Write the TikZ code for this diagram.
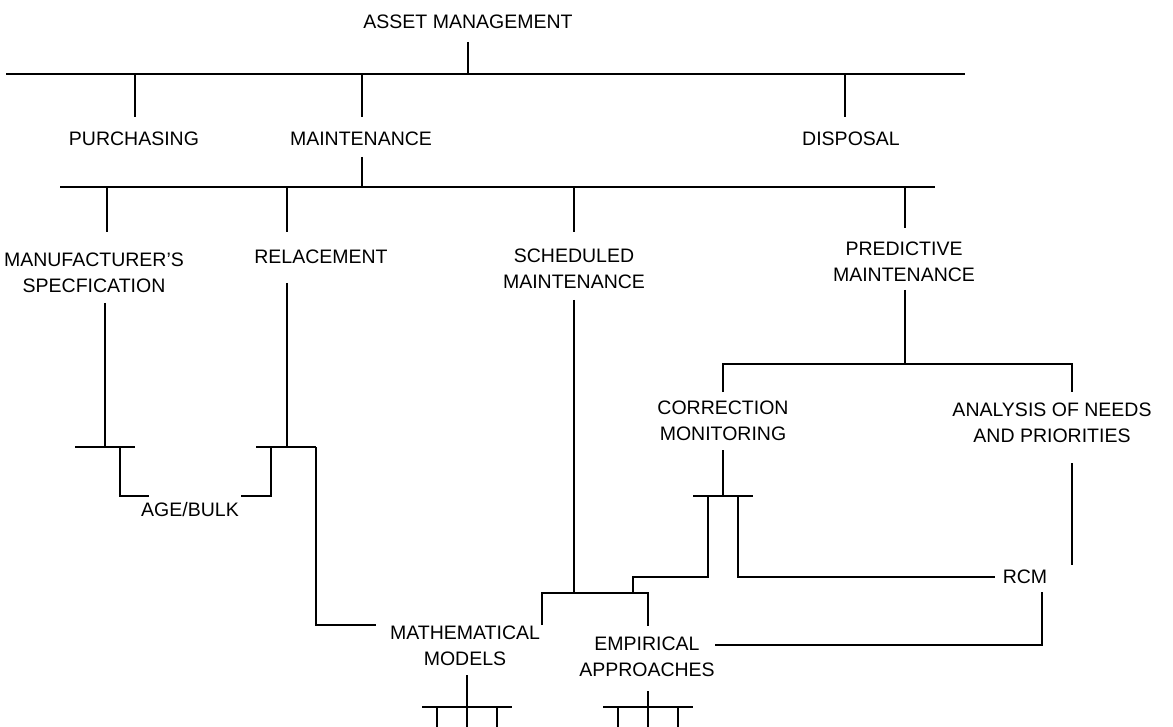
\documentclass[tikz,border=0pt]{standalone}
\usepackage{fontspec}
\setmainfont{Liberation Sans}
\begin{document}
\begin{tikzpicture}[x=1pt,y=-1pt,
  lbl/.style={inner sep=0pt,align=center,font=\fontsize{19.5}{26}\selectfont},
  wire/.style={line width=1.1pt,black},
  bar/.style={line width=1.5pt,black}]
\useasboundingbox[fill=white] (0,0) rectangle (1173,727);

% labels
\node[lbl] (am)  at (468,22)  {ASSET MANAGEMENT};
\node[lbl] (pur) at (134,139) {PURCHASING};
\node[lbl] (mai) at (361,139) {MAINTENANCE};
\node[lbl] (dis) at (851,139) {DISPOSAL};
\node[lbl] (man) at (94,273)  {MANUFACTURER'S\\SPECFICATION};
\node[lbl] (rel) at (321,257) {RELACEMENT};
\node[lbl] (sch) at (574,269) {SCHEDULED\\MAINTENANCE};
\node[lbl] (pre) at (904,262) {PREDICTIVE\\MAINTENANCE};
\node[lbl] (cor) at (723,421) {CORRECTION\\MONITORING};
\node[lbl] (ana) at (1052,423) {ANALYSIS OF NEEDS\\AND PRIORITIES};
\node[lbl] (age) at (190,510) {AGE/BULK};
\node[lbl] (rcm) at (1025,577) {RCM};
\node[lbl] (mat) at (465,646) {MATHEMATICAL\\MODELS};
\node[lbl] (emp) at (647,657) {EMPIRICAL\\APPROACHES};

% level 1
\coordinate (b1) at (468,74);
\draw[wire] (468,42) -- (b1);
\draw[bar] (6,74) -- (965,74);
\draw[wire] (135,74) -- (135,117);
\draw[wire] (362,74) -- (362,117);
\draw[wire] (845,74) -- (845,117);

% level 2
\coordinate (b2) at (362,187);
\draw[wire] (362,157) -- (b2);
\draw[bar] (60,187) -- (935,187);
\draw[wire] (107,187) -- (107,232);
\draw[wire] (287,187) -- (287,232);
\draw[wire] (574,187) -- (574,232);
\draw[wire] (905,187) -- (905,228);

% manufacturer's specification / replacement to age/bulk
\draw[wire] (105,303) -- (105,447);
\draw[bar] (75,447) -- (135,447);
\draw[wire] (120,447) -- (120,496) -- (149,496);
\draw[wire] (287,283) -- (287,447);
\draw[bar] (256,447) -- (316,447);
\draw[wire] (271,447) -- (271,496) -- (241,496);
\draw[wire] (316,447) -- (316,625) -- (376,625);

% scheduled maintenance to the models
\draw[wire] (574,300) -- (574,593);
\draw[wire] (542,625) -- (542,593) -- (648,593) -- (648,626);

% predictive maintenance
\draw[wire] (905,290) -- (905,364);
\draw[wire] (723,392) -- (723,364) -- (1072,364) -- (1072,392);
\draw[wire] (723,450) -- (723,496);
\draw[bar] (693,496) -- (753,496);
\draw[wire] (708,496) -- (708,577) -- (633,577) -- (633,593);
\draw[wire] (738,496) -- (738,577) -- (995,577);
\draw[wire] (1072,463) -- (1072,565);
\draw[wire] (1042,592) -- (1042,645) -- (715,645);

% branches under the models
\draw[wire] (467,675) -- (467,707);
\draw[bar] (422,707) -- (512,707);
\foreach \x in {437,467,497} \draw[wire] (\x,707) -- (\x,727);
\draw[wire] (648,691) -- (648,707);
\draw[bar] (603,707) -- (693,707);
\foreach \x in {618,648,678} \draw[wire] (\x,707) -- (\x,727);
\end{tikzpicture}
\end{document}
